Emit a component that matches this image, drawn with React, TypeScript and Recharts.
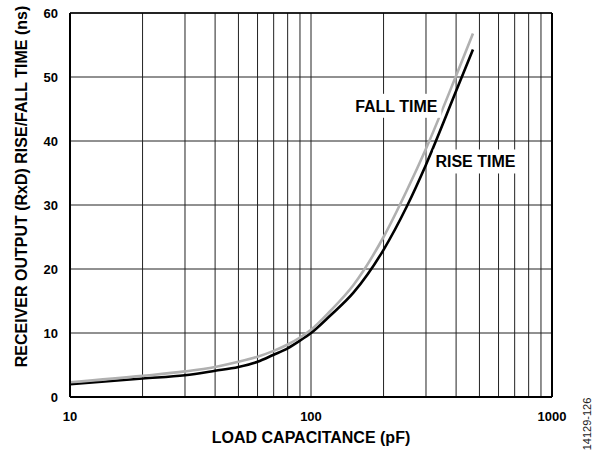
import React from 'react';
import {
  LineChart,
  Line,
  XAxis,
  YAxis,
  CartesianGrid,
  ReferenceLine,
  ReferenceDot,
} from 'recharts';

// Load capacitance (pF)
const capacitance = [10, 20, 30, 40, 50, 60, 70, 80, 90, 100, 120, 150, 200, 250, 300, 400, 470];
// Fall time (ns) - gray curve
const fallTime = [2.3, 3.3, 4.0, 4.7, 5.5, 6.3, 7.2, 8.2, 9.3, 10.5, 13.4, 17.5, 25.0, 32.3, 38.8, 50.2, 56.8];
// Rise time (ns) - black curve
const riseTime = [2.0, 2.9, 3.4, 4.1, 4.7, 5.5, 6.6, 7.6, 8.8, 10.0, 12.7, 16.3, 23.0, 29.8, 36.3, 47.8, 54.3];

const xGridTicks = [10, 20, 30, 40, 50, 60, 70, 80, 90, 100, 200, 300, 400, 500, 600, 700, 800, 900, 1000];
const xLabelTicks = [10, 100, 1000];
const yTicks = [0, 10, 20, 30, 40, 50, 60];

const curveLabelText = ['FALL TIME', 'RISE TIME'];
const curveLabelX = [226, 481];
const curveLabelY = [45.5, 36.8];

const data = capacitance.map((c, i) => ({ cap: c, fall: fallTime[i], rise: riseTime[i] }));

const FONT = '"Liberation Sans", Arial, Helvetica, sans-serif';

const makeLabelShape = (text: string, w: number) => (props: any) => {
  const { cx, cy } = props;
  return (
    <g>
      <rect x={cx - w / 2} y={cy - 12} width={w} height={24} fill="#fff" />
      <text
        x={cx}
        y={cy + 5.7}
        textAnchor="middle"
        fontFamily={FONT}
        fontWeight="bold"
        fontSize={16}
        fill="#000"
      >
        {text}
      </text>
    </g>
  );
};

export default function App() {
  return (
    <div style={{ position: 'absolute', left: 0, top: 0, width: 599, height: 452, background: '#fff' }}>
      <LineChart
        width={599}
        height={452}
        data={data}
        margin={{ top: 13, right: 47, bottom: 0, left: 0 }}
      >
        <CartesianGrid stroke="#222" strokeWidth={1} />
        <XAxis
          dataKey="cap"
          type="number"
          scale="log"
          domain={[10, 1000]}
          ticks={xGridTicks}
          interval={0}
          height={55}
          tickLine={false}
          tickSize={0}
          tickMargin={15}
          axisLine={{ stroke: '#000', strokeWidth: 2 }}
          tickFormatter={(v: number) => (xLabelTicks.includes(v) ? String(v) : '')}
          tick={{ fill: '#000', fontSize: 13, fontWeight: 'bold', fontFamily: FONT }}
          label={{
            content: (p: any) => {
              const vb = p.viewBox;
              return (
                <text
                  x={vb.x + vb.width / 2}
                  y={vb.y + 46}
                  textAnchor="middle"
                  fontFamily={FONT}
                  fontWeight="bold"
                  fontSize={16}
                  fill="#000"
                >
                  LOAD CAPACITANCE (pF)
                </text>
              );
            },
          }}
        />
        <YAxis
          type="number"
          domain={[0, 60]}
          ticks={yTicks}
          interval={0}
          width={70}
          tickLine={false}
          tickSize={0}
          tickMargin={12}
          axisLine={{ stroke: '#000', strokeWidth: 2 }}
          tick={{ fill: '#000', fontSize: 13, fontWeight: 'bold', fontFamily: FONT }}
          label={{
            content: (p: any) => {
              const vb = p.viewBox;
              const cx = 21;
              const cy = vb.y + vb.height / 2 - 18.5;
              return (
                <text
                  x={cx}
                  y={cy}
                  transform={`rotate(-90 ${cx} ${cy})`}
                  textAnchor="middle"
                  dominantBaseline="central"
                  fontFamily={FONT}
                  fontWeight="bold"
                  fontSize={16}
                  fill="#000"
                >
                  RECEIVER OUTPUT (RxD) RISE/FALL TIME (ns)
                </text>
              );
            },
          }}
        />
        <ReferenceLine y={60} stroke="#000" strokeWidth={1.5} />
        <ReferenceLine x={1000} stroke="#000" strokeWidth={2} />
        <ReferenceDot
          x={curveLabelX[0]}
          y={curveLabelY[0]}
          r={0}
          ifOverflow="visible"
          shape={makeLabelShape(curveLabelText[0], 90)}
        />
        <ReferenceDot
          x={curveLabelX[1]}
          y={curveLabelY[1]}
          r={0}
          ifOverflow="visible"
          shape={makeLabelShape(curveLabelText[1], 84)}
        />
        <Line
          type="monotone"
          dataKey="rise"
          stroke="#000"
          strokeWidth={2.6}
          dot={false}
          activeDot={false}
          isAnimationActive={false}
        />
        <Line
          type="monotone"
          dataKey="fall"
          stroke="#b0b0b0"
          strokeWidth={2.6}
          dot={false}
          activeDot={false}
          isAnimationActive={false}
        />
      </LineChart>
      <div
        style={{
          position: 'absolute',
          left: 587,
          top: 424,
          transform: 'translate(-50%, -50%) rotate(-90deg)',
          fontFamily: FONT,
          fontSize: 11,
          color: '#222',
          whiteSpace: 'nowrap',
          lineHeight: 1,
        }}
      >
        14129-126
      </div>
    </div>
  );
}
